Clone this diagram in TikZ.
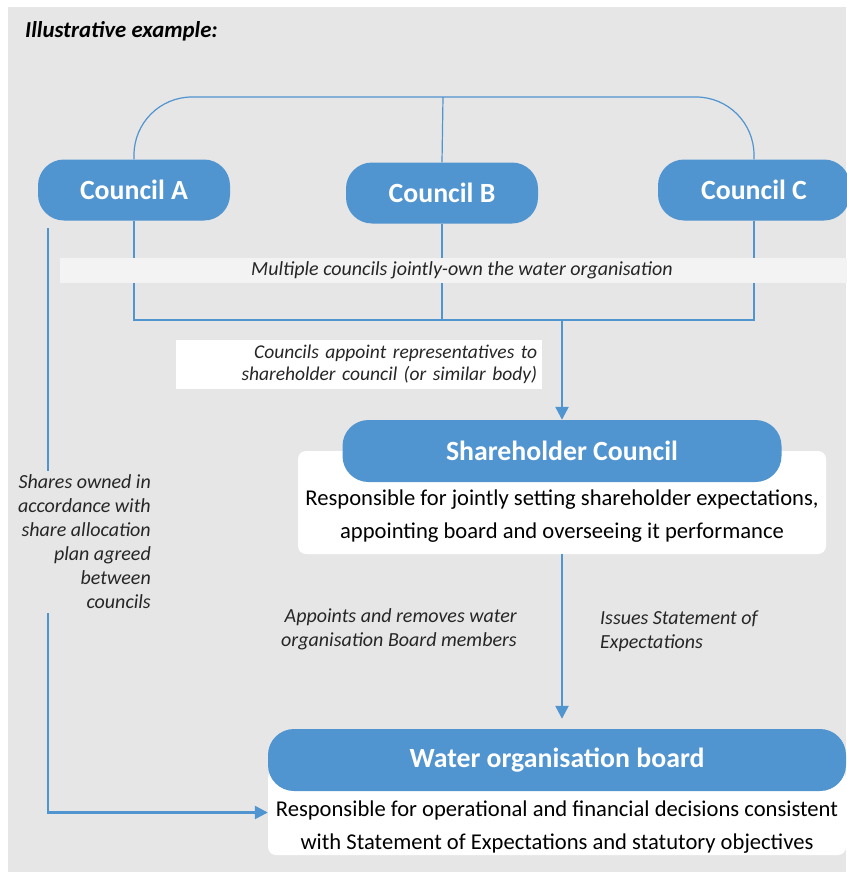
\documentclass[tikz,border=0pt]{standalone}
\usepackage{fontspec}
\setmainfont{Carlito}
\usetikzlibrary{arrows.meta, positioning}
\definecolor{pillblue}{RGB}{80,148,208}
\definecolor{bggrey}{RGB}{230,230,230}
\definecolor{bandgrey}{RGB}{243,243,243}
\definecolor{inkgrey}{RGB}{38,38,38}

\begin{document}
\begin{tikzpicture}[
  x=1pt, y=-1pt,
  pill/.style={fill=pillblue, text=white, rounded corners=26pt, minimum height=61pt,
    font=\fontsize{27.8}{32}\selectfont\bfseries},
  panel/.style={fill=white, rounded corners=8pt},
  body/.style={text=black, align=center, font=\fontsize{22.6}{33}\selectfont},
  note/.style={text=inkgrey, font=\fontsize{20}{24}\selectfont\itshape, inner sep=2pt},
  link/.style={draw=pillblue, line width=2.4pt},
  bracket/.style={draw=pillblue, line width=1.2pt},
  >={Triangle[length=13pt, width=13pt]}]

\useasboundingbox (0,0) rectangle (846,872);
\fill[bggrey] (8,7) rectangle (846,872);

\node[anchor=west, inner sep=0pt, font=\fontsize{22.8}{26}\selectfont\bfseries\itshape] (title) at (25,31) {Illustrative example:};

% councils
\node[pill, minimum width=192pt] (ca) at (134,190) {Council A};
\node[pill, minimum width=192pt] (cb) at (442,193) {Council B};
\node[pill, minimum width=192pt] (cc) at (754,190) {Council C};

\coordinate (top) at (443,97);
\draw[bracket, rounded corners=58pt] (ca.north) |- (top) -| (cc.north);
\draw[bracket] (top) -- (cb.north);

\coordinate (bar) at (562,320);
\draw[link] (ca.south) |- (bar) -| (cc.south);
\draw[link] (cb.south) -- (cb.south |- bar);

\node[note, fill=bandgrey, minimum width=804pt, minimum height=25pt, inner sep=0pt] (band) at (462,270.5)
  {Multiple councils jointly-own the water organisation};

% shareholder council
\node[panel, minimum width=528pt, minimum height=103pt] (shpanel) at (562,502.5) {};
\node[pill, minimum width=439pt, minimum height=62pt] (sh) at (562,451) {Shareholder Council};
\node[body] (shtext) at (562,516) {Responsible for jointly setting shareholder expectations,\\appointing board and overseeing it performance};
\draw[link, ->] (bar) -- (sh.north);

\node[note, fill=white, text width=356pt, align=right, inner sep=5pt, anchor=north west,
  font=\fontsize{19.5}{22}\selectfont\itshape] (rep) at (176,340)
  {Councils appoint representatives to\\shareholder council (or similar body)};

% water organisation board
\node[panel, minimum width=578pt, minimum height=85pt] (wbpanel) at (557,812.5) {};
\node[pill, minimum width=578pt, minimum height=62pt] (wb) at (557,760) {Water organisation board};
\node[body] (wbtext) at (557,827) {Responsible for operational and financial decisions consistent\\with Statement of Expectations and statutory objectives};
\draw[link, ->, shorten >=10pt] (shpanel.south) -- (shpanel.south |- wb.north);

\node[note, align=right, anchor=east] (appoint) at (519,629) {Appoints and removes water\\organisation Board members};
\node[note, align=left, anchor=west] (issues) at (598,631) {Issues Statement of\\Expectations};

% shares
\coordinate (own) at (48,228);
\draw[link, ->] (own) |- (wbpanel.west);
\node[note, fill=bggrey, align=right, anchor=east, inner sep=4pt] (shares) at (155,542)
  {Shares owned in\\accordance with\\share allocation\\plan agreed\\between\\councils};
\end{tikzpicture}
\end{document}
